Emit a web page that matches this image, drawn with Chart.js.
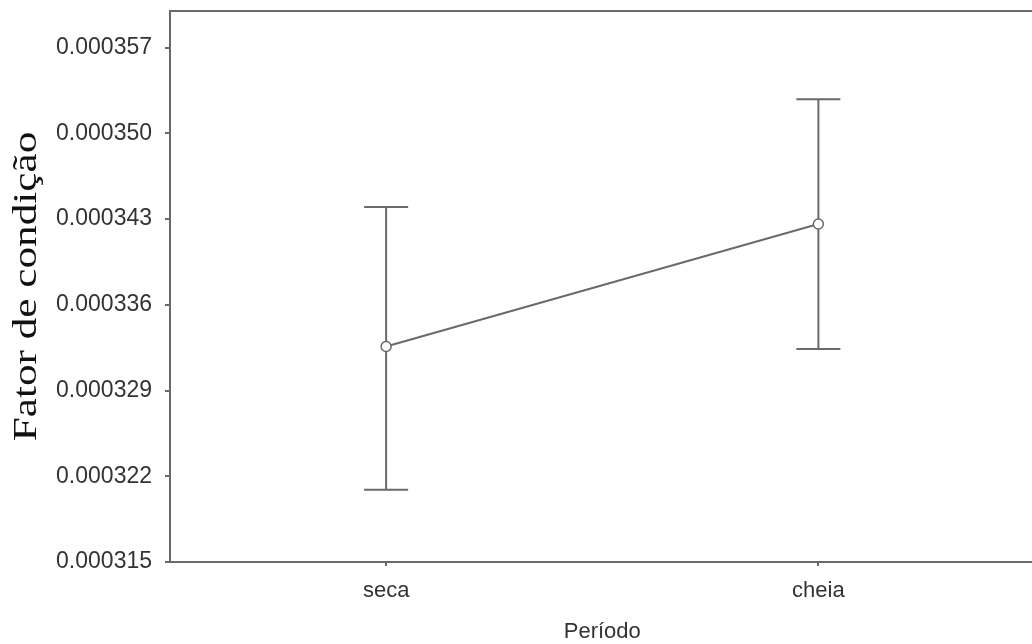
<!DOCTYPE html>
<html>
<head>
<meta charset="utf-8">
<script src="https://cdn.jsdelivr.net/npm/chart.js@4"></script>
<style>
  body { margin:0; background:#fff; overflow:hidden; }
  #wrap { width:1041px; height:644px; }
</style>
</head>
<body>
<div id="wrap"><canvas id="chart"></canvas></div>
<script>

/* DATA */

const categories = ["seca","cheia"];

const means = [0.0003326, 0.0003426];

const upper = [0.0003440, 0.0003528];

const lower = [0.0003209, 0.0003324];

const yTicks = [0.000315,0.000322,0.000329,0.000336,0.000343,0.000350,0.000357];

const yTitle = "Fator de condição";

const xTitle = "Período";

const grey = "#6a6a6a";

/* error bars, drawn under the line */

const errorBars = {

    id:"errorBars",

    beforeDatasetsDraw(chart){

        const ctx = chart.ctx;
        const x = chart.scales.x;
        const y = chart.scales.y;

        ctx.save();
        ctx.strokeStyle = grey;
        ctx.lineWidth = 2;

        categories.forEach((c,i)=>{

            const px = x.getPixelForValue(i);
            const top = y.getPixelForValue(upper[i]);
            const bot = y.getPixelForValue(lower[i]);

            ctx.beginPath();
            ctx.moveTo(px,top); ctx.lineTo(px,bot);
            ctx.moveTo(px-22,top); ctx.lineTo(px+22,top);
            ctx.moveTo(px-22,bot); ctx.lineTo(px+22,bot);
            ctx.stroke();

        });

        ctx.restore();

    }

};

/* top frame line and the stretched serif y title */

const frame = {

    id:"frame",

    afterDraw(chart){

        const ctx = chart.ctx;
        const a = chart.chartArea;

        ctx.save();
        ctx.strokeStyle = grey;
        ctx.lineWidth = 2;
        ctx.beginPath();
        ctx.moveTo(a.left,a.top); ctx.lineTo(a.right,a.top);
        ctx.stroke();

        ctx.translate(27,(a.top+a.bottom)/2);
        ctx.rotate(-Math.PI/2);
        ctx.scale(1.31,1);
        ctx.font = "33px 'Liberation Serif', 'Times New Roman', serif";
        ctx.fillStyle = "#111";
        ctx.textAlign = "center";
        ctx.textBaseline = "middle";
        ctx.fillText(yTitle,0,0);
        ctx.restore();

    }

};

new Chart(document.getElementById("chart"),{

    type:"line",

    data:{

        labels:categories,

        datasets:[{

            data:means,

            borderColor:grey,

            borderWidth:2,

            pointRadius:5,

            pointBorderWidth:1.5,

            pointBackgroundColor:"#fff",

            pointBorderColor:grey,

            tension:0

        }]

    },

    options:{

        responsive:true,

        maintainAspectRatio:false,

        animation:false,

        layout:{ padding:{ top:11, left:0, right:0, bottom:0 } },

        plugins:{ legend:{ display:false }, tooltip:{ enabled:false } },

        scales:{

            x:{

                offset:true,

                grid:{ drawOnChartArea:false, drawTicks:true, tickLength:4, color:grey, lineWidth:2 },

                border:{ display:true, color:grey, width:2 },

                ticks:{ color:"#333", padding:12, font:{ family:"'Liberation Sans', Arial", size:22 } },

                title:{ display:true, text:xTitle, color:"#333", padding:{ top:0, bottom:0 }, font:{ family:"'Liberation Sans', Arial", size:22, lineHeight:1.1 } },

                afterFit(s){ s.height = 82; s.paddingLeft = 0; s.paddingRight = 0; }

            },

            y:{

                min:0.000315,

                max:0.00036,

                afterBuildTicks(s){ s.ticks = yTicks.map(v=>({ value:v })); },

                grid:{ drawOnChartArea:false, drawTicks:true, tickLength:5, color:grey, lineWidth:2 },

                border:{ display:true, color:grey, width:2 },

                ticks:{ color:"#333", padding:13, font:{ family:"'Liberation Sans', Arial", size:23 }, callback:v=>Number(v).toFixed(6) },

                afterFit(s){ s.width = 170; s.paddingTop = 0; s.paddingBottom = 0; }

            }

        }

    },

    plugins:[errorBars, frame]

});

</script>
</body>
</html>
